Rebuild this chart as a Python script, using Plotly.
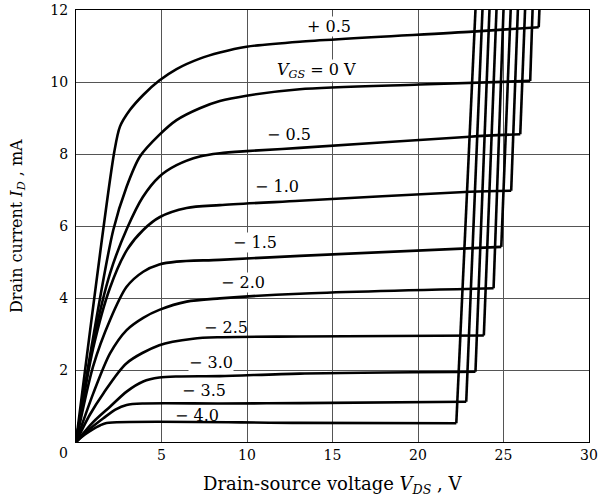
import plotly.graph_objects as go

FONT = "DejaVu Serif"

# ---- data ----
vgs_labels = ["+ 0.5", "<i>V</i><sub><i>GS</i></sub> = 0 V", "− 0.5", "− 1.0", "− 1.5",
              "− 2.0", "− 2.5", "− 3.0", "− 3.5", "− 4.0"]

vds_p05 = [0, 2.24, 2.57, 3.15, 3.93, 4.87, 5.88, 7.24, 8.41, 9.97, 13.08, 23.19, 27.06]
id_p05 = [0, 8.06, 8.76, 9.22, 9.64, 10.04, 10.36, 10.65, 10.82, 10.98, 11.12, 11.40, 11.52]

vds_0 = [0, 1.0, 2.18, 2.96, 3.74, 4.87, 5.88, 7.24, 8.41, 9.97, 13.08, 20.09, 26.56]
id_0 = [0, 2.9, 5.89, 7.09, 7.93, 8.53, 8.94, 9.27, 9.47, 9.62, 9.80, 9.93, 10.03]

vds_m05 = [0, 1.0, 2.0, 3.0, 3.9, 4.87, 5.88, 7.24, 8.41, 9.97, 13.08, 23.02, 25.98]
id_m05 = [0, 2.75, 4.7, 5.95, 6.8, 7.37, 7.69, 7.93, 8.02, 8.08, 8.17, 8.48, 8.55]

vds_m10 = [0, 1.0, 2.0, 3.0, 3.93, 4.91, 6.47, 8.41, 13.08, 23.02, 25.45]
id_m10 = [0, 2.6, 4.3, 5.35, 5.89, 6.25, 6.50, 6.58, 6.70, 6.95, 6.98]

vds_m15 = [0, 1.0, 1.99, 2.96, 3.93, 4.87, 5.88, 8.41, 13.08, 24.87]
id_m15 = [0, 2.1, 3.39, 4.31, 4.73, 4.93, 5.01, 5.06, 5.17, 5.42]

vds_m20 = [0, 1.01, 1.99, 2.96, 3.93, 4.87, 6.47, 8.41, 13.08, 24.42]
id_m20 = [0, 1.35, 2.46, 3.11, 3.45, 3.67, 3.90, 3.99, 4.12, 4.27]

vds_m25 = [0, 0.8, 1.6, 2.96, 4.87, 6.85, 8.41, 13.08, 23.85]
id_m25 = [0, 0.75, 1.35, 2.19, 2.69, 2.87, 2.91, 2.93, 2.96]

vds_m30 = [0, 1.0, 1.99, 2.96, 3.93, 4.87, 6.0, 8.41, 13.08, 23.36]
id_m30 = [0, 0.55, 0.98, 1.40, 1.68, 1.79, 1.82, 1.83, 1.90, 1.95]

vds_m35 = [0, 0.8, 1.6, 2.3, 2.96, 4.0, 8.41, 13.08, 22.82]
id_m35 = [0, 0.36, 0.66, 0.90, 1.03, 1.07, 1.07, 1.08, 1.12]

vds_m40 = [0, 0.5, 1.0, 1.4, 1.79, 13.08, 22.24]
id_m40 = [0, 0.2, 0.36, 0.46, 0.53, 0.53, 0.52]

# breakdown lines: from each knee up to the top of the chart (I_D = 12 mA)
breakdown_top_vds = [27.10, 26.70, 26.26, 25.84, 25.42, 25.00, 24.59, 24.18, 23.77, 23.36]
breakdown_top_id = 12

x_ticks = [5, 10, 15, 20, 25, 30]
y_ticks = [2, 4, 6, 8, 10, 12]

# ---- layout-only helpers ----
curves = [(vds_p05, id_p05), (vds_0, id_0), (vds_m05, id_m05), (vds_m10, id_m10),
          (vds_m15, id_m15), (vds_m20, id_m20), (vds_m25, id_m25), (vds_m30, id_m30),
          (vds_m35, id_m35), (vds_m40, id_m40)]
label_pos = [(14.78, 11.53), (14.08, 10.33), (12.44, 8.53), (11.74, 7.11), (10.46, 5.53),
             (9.75, 4.42), (8.76, 3.19), (7.89, 2.22), (7.48, 1.44), (7.07, 0.75)]
label_bg = [True, True, False, False, True, True, False, True, False, False]

fig = go.Figure()
for (xs, ys), top in zip(curves, breakdown_top_vds):
    fig.add_trace(go.Scatter(x=xs, y=ys, mode="lines",
                             line=dict(color="black", width=2.6, shape="spline", smoothing=0.8),
                             hoverinfo="skip", showlegend=False))
    fig.add_trace(go.Scatter(x=[xs[-1], top], y=[ys[-1], breakdown_top_id], mode="lines",
                             line=dict(color="black", width=2.6),
                             hoverinfo="skip", showlegend=False))

annotations = []
for txt, (lx, ly), bg in zip(vgs_labels, label_pos, label_bg):
    annotations.append(dict(x=lx, y=ly, xref="x", yref="y", text=txt, showarrow=False,
                            font=dict(family=FONT, size=16, color="black"),
                            bgcolor="white" if bg else "rgba(0,0,0,0)", borderpad=0,
                            xanchor="center", yanchor="middle"))
annotations.append(dict(x=0, y=0, xref="x", yref="y", text="0", showarrow=False,
                        font=dict(family=FONT, size=14, color="black"),
                        xanchor="center", yanchor="middle", xshift=-13, yshift=-11))
annotations.append(dict(x=0.5, y=-0.0995, xref="paper", yref="paper",
                        text="Drain-source voltage <i>V</i><sub><i>DS</i></sub> , V",
                        showarrow=False, font=dict(family=FONT, size=18, color="black"),
                        xanchor="center", yanchor="middle"))
annotations.append(dict(x=-0.115, y=0.5, xref="paper", yref="paper",
                        text="Drain current <i>I</i><sub><i>D</i></sub> , mA", textangle=-90,
                        showarrow=False, font=dict(family=FONT, size=16, color="black"),
                        xanchor="center", yanchor="middle"))

axis_common = dict(showgrid=True, gridcolor="#555555", gridwidth=1, zeroline=False,
                   showline=True, linecolor="black", linewidth=1.3, mirror=True,
                   automargin=False,
                   ticks="", tickfont=dict(family=FONT, size=14, color="black"))
fig.update_layout(
    width=602, height=497,
    margin=dict(l=76, r=13, t=10, b=55, autoexpand=False),
    paper_bgcolor="white", plot_bgcolor="white",
    xaxis=dict(range=[0, 30], tickvals=x_ticks, ticktext=[str(v) for v in x_ticks], **axis_common),
    yaxis=dict(range=[0, 12], tickvals=y_ticks, ticktext=[str(v) for v in y_ticks],
               ticklabelstandoff=4, **axis_common),
    annotations=annotations,
    font=dict(family=FONT, color="black"),
)
fig.write_html("out.html", config={"displayModeBar": False},
               post_script="document.body.style.margin='0';document.body.style.overflow='hidden';")
